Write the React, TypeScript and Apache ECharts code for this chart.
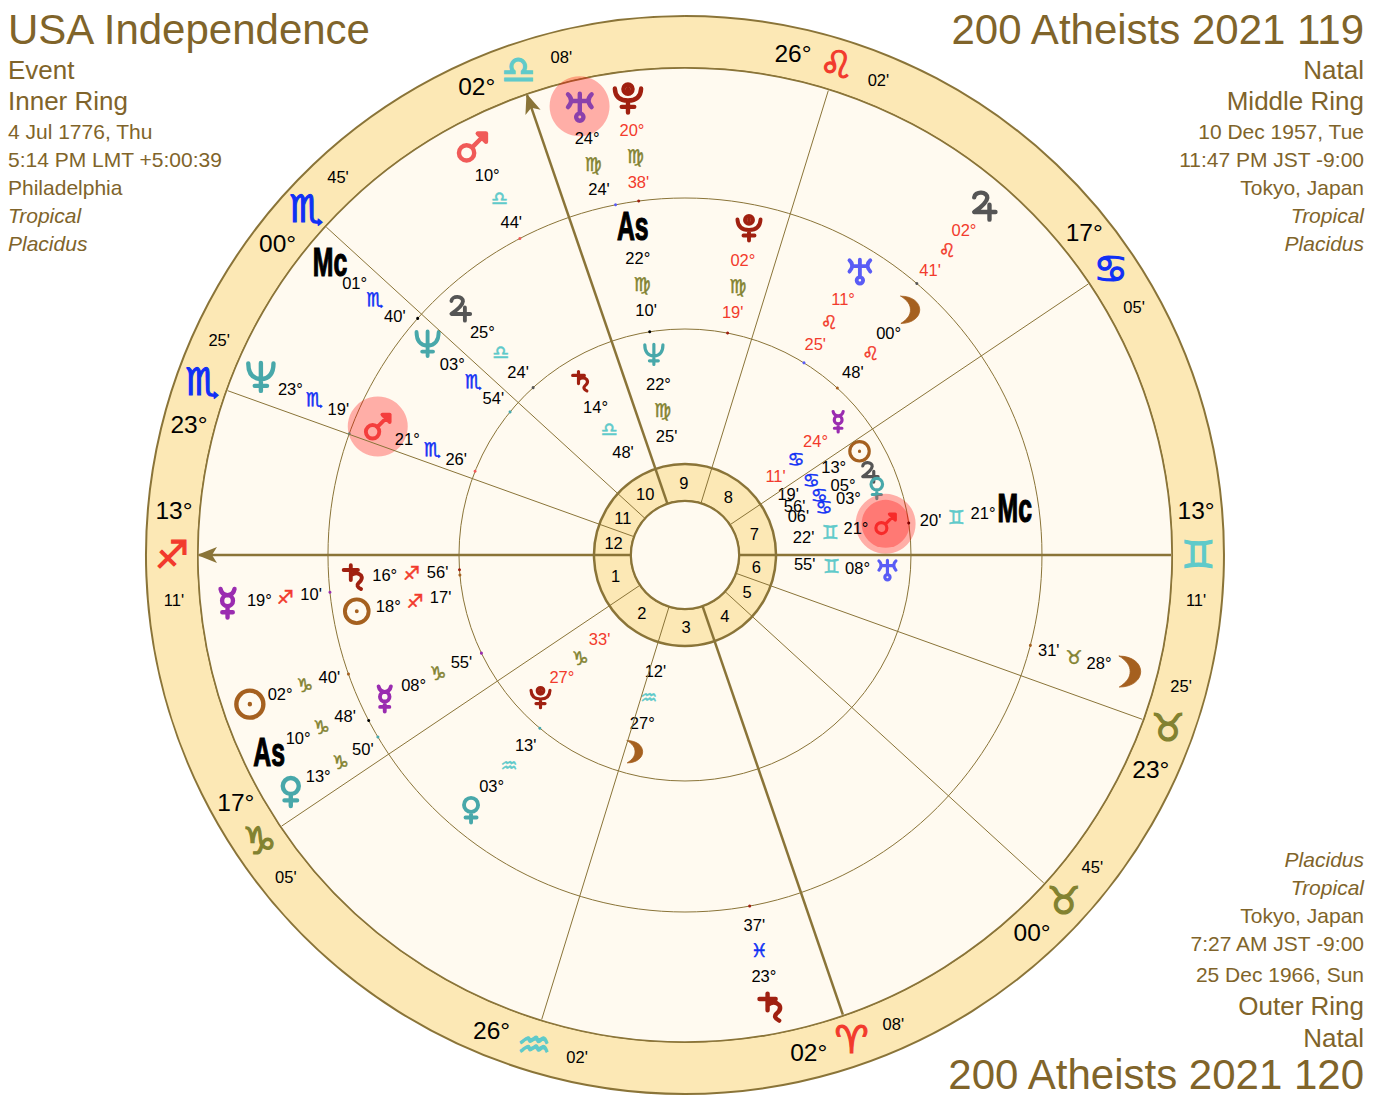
import React, { useEffect, useRef } from "react";
import * as echarts from "echarts";

const signGlyphs = ["♈", "♉", "♊", "♋", "♌", "♍", "♎", "♏", "♐", "♑", "♒", "♓"];
const cuspSign = [8, 9, 10, 0, 1, 1, 2, 3, 4, 6, 7, 7];
const cuspDeg = [13, 17, 26, 2, 0, 23, 13, 17, 26, 2, 0, 23];
const cuspMin = [11, 5, 2, 8, 45, 25, 11, 5, 2, 8, 45, 25];
const houseNumbers = ["1", "2", "3", "4", "5", "6", "7", "8", "9", "10", "11", "12"];

// body, sign index, degrees, minutes, longitude at which the glyph is shown, retrograde
type Row = [string, number, number, number, number, boolean];
const outerRing: Row[] = [
  ["Moon", 1, 28, 31, 58.5, false],
  ["Saturn", 11, 23, 37, 353.8, false],
  ["Venus", 9, 13, 50, 284.2, false],
  ["As", 9, 10, 48, 278.5, false],
  ["Sun", 9, 2, 40, 272.1, false],
  ["Mercury", 8, 19, 10, 259.2, false],
  ["Neptune", 7, 23, 19, 230.4, false],
  ["Mc", 7, 1, 40, 213.7, false],
  ["Mars", 6, 10, 44, 190.7, false],
  ["Uranus", 5, 24, 24, 176.4, false],
  ["Pluto", 5, 20, 38, 170.3, true],
  ["Jupiter", 4, 2, 41, 122.5, true],
];
const middleRing: Row[] = [
  ["Venus", 10, 3, 13, 303.2, false],
  ["Saturn", 8, 16, 56, 257.0, false],
  ["Sun", 8, 18, 17, 262.9, false],
  ["Mercury", 9, 8, 55, 278.8, false],
  ["Mars", 7, 21, 26, 230.5, false],
  ["Neptune", 7, 3, 54, 213.8, false],
  ["Jupiter", 6, 25, 24, 205.5, false],
  ["As", 5, 22, 10, 172.2, false],
  ["Pluto", 5, 2, 19, 152.1, true],
  ["Uranus", 4, 11, 25, 131.5, true],
  ["Moon", 4, 0, 48, 120.6, false],
  ["Mc", 2, 21, 20, 81.2, false],
];
const innerRing: Row[] = [
  ["Moon", 10, 27, 12, 328.9, false],
  ["Pluto", 9, 27, 33, 297.8, true],
  ["Saturn", 6, 14, 48, 194.3, false],
  ["Neptune", 5, 22, 25, 172.0, false],
  ["Mercury", 3, 24, 11, 114.2, true],
  ["Sun", 3, 13, 19, 103.9, false],
  ["Jupiter", 3, 5, 56, 97.2, false],
  ["Venus", 3, 3, 6, 92.3, false],
  ["Mars", 2, 21, 22, 82.0, false],
  ["Uranus", 2, 8, 55, 68.9, false],
];
const headerLeft = ["USA Independence", "Event", "Inner Ring", "4 Jul 1776, Thu", "5:14 PM LMT +5:00:39", "Philadelphia", "Tropical", "Placidus"];
const headerRight = ["200 Atheists 2021 119", "Natal", "Middle Ring", "10 Dec 1957, Tue", "11:47 PM JST -9:00", "Tokyo, Japan", "Tropical", "Placidus"];
const footerRight = ["Placidus", "Tropical", "Tokyo, Japan", "7:27 AM JST -9:00", "25 Dec 1966, Sun", "Outer Ring", "Natal", "200 Atheists 2021 120"];

const BROWN = "#80642a";
const LINE = "#8a7438";
const BAND = "#fce8b5";
const PAPER = "#fffaf0";
const RED = "#f23a2c";
const SANS = "Liberation Sans";
const SYM = "DejaVu Sans";
const CX = 685;
const CY = 555;
const R = 539;
const START = 286.82;

const signColors = [RED, "#828230", "#5fcaca", "#1030f5", RED, "#828230", "#5fcaca", "#1030f5", RED, "#828230", "#5fcaca", "#1030f5"];
const bodyStyle: Record<string, { c: string; d: string; h: number }> = {
  Sun: { c: "#a5601f", h: 27, d: "M50 0A50 50 0 1 0 50 100A50 50 0 1 0 50 0M50 49.5L50 50.5" },
  Moon: { c: "#a5601f", h: 31, d: "M5 3C45 3 70 25 70 50C70 75 45 97 5 97C28 82 38 68 38 50C38 32 28 18 5 3Z" },
  Mercury: { c: "#9a2cb0", h: 28.5, d: "M26 2Q30 22 50 23Q70 22 74 2M50 23A19 19 0 1 0 50 61A19 19 0 1 0 50 23M50 61L50 100M32 82L68 82" },
  Venus: { c: "#48a8aa", h: 28, d: "M50 2A28 28 0 1 0 50 58A28 28 0 1 0 50 2M50 58L50 100M28 80L72 80" },
  Mars: { c: "#f05a58", h: 27, d: "M2 72A26 26 0 1 0 54 72A26 26 0 1 0 2 72M47 53L94 6M66 6L94 6L94 34Z" },
  Jupiter: { c: "#555555", h: 27, d: "M12 18A24 18 0 0 1 60 20Q58 40 12 72L90 72M68 45L68 100" },
  Saturn: { c: "#a02010", h: 27, d: "M35 0L35 62M5 20L65 20M35 42Q60 24 78 42Q88 58 68 74Q54 88 78 100" },
  Uranus: { c: "#5a5cf5", h: 27, d: "M8 4Q30 24 8 50M92 4Q70 24 92 50M50 2L50 72M24 28L76 28M50 72A13 13 0 1 0 50 98A13 13 0 1 0 50 72" },
  Neptune: { c: "#48a8aa", h: 28, d: "M5 2Q5 55 50 58Q95 55 95 2M50 0L50 100M28 82L72 82" },
  Pluto: { c: "#a02010", h: 28, d: "M50 2A16 16 0 1 0 50 34A16 16 0 1 0 50 2M4 16Q6 58 50 58Q94 58 96 16M50 58L50 100M28 80L72 80M50 17.5L50 18.5" },
  As: { c: "#000000", h: 0, d: "" },
  Mc: { c: "#000000", h: 0, d: "" },
};

const pad = (n: number) => String(n).padStart(2, "0");
const lonOf = (sign: number, deg: number, min: number) => sign * 30 + deg + min / 60;
const cuspLon = cuspSign.map((s, i) => lonOf(s, cuspDeg[i], cuspMin[i]));

function textPoint(r: number, lon: number, text: string, size: number, color: string, family = SANS, extra: any = {}) {
  return {
    value: [r, (lon + 360) % 360],
    label: { show: true, position: "inside", formatter: text, fontSize: size, color, fontFamily: family, align: "center", verticalAlign: "middle", ...extra },
  };
}

function ringLabels(rows: Row[], radii: number[]) {
  const out: any[] = [];
  const lift = { offset: [0, -1] };
  rows.forEach(([, sign, deg, min, shown, retro]) => {
    const tc = retro ? RED : "#000000";
    out.push(textPoint(radii[1], shown, pad(deg) + "°", 16.5, tc, SANS, lift));
    out.push(textPoint(radii[2], shown, signGlyphs[sign], 19, signColors[sign], SYM, { textBorderColor: signColors[sign], textBorderWidth: 0.5 }));
    out.push(textPoint(radii[3], shown, pad(min) + "'", 16.5, tc, SANS, lift));
  });
  return out;
}

function glyphSeries(rows: Row[], r: number, f: number) {
  const sw = 4.4 * f;
  return {
    type: "scatter",
    coordinateSystem: "polar",
    silent: true,
    animation: false,
    symbolKeepAspect: true,
    itemStyle: { opacity: 1 },
    data: rows
      .filter(([b]) => b !== "As" && b !== "Mc")
      .map(([b, , , , shown]) => {
        const st = bodyStyle[b];
        return {
          value: [r, shown],
          symbol: "path://" + st.d,
          symbolSize: st.h * f,
          itemStyle: {
            color: b === "Moon" ? st.c : "transparent",
            borderColor: st.c,
            borderWidth: b === "Moon" ? 0.8 : sw,
            borderCap: "round",
            borderJoin: "round",
            opacity: 1,
          },
        };
      }),
  };
}

function ticks(rows: Row[], r: number) {
  return rows.map(([body, sign, deg, min]) => ({
    value: [r, lonOf(sign, deg, min)],
    itemStyle: { color: bodyStyle[body].c, opacity: 1 },
  }));
}

function disc(inner: number, outer: number, fill: string, border: string, width: number) {
  return {
    type: "pie",
    center: [CX, CY],
    radius: [inner, outer],
    silent: true,
    animation: false,
    label: { show: false },
    labelLine: { show: false },
    emphasis: { disabled: true },
    itemStyle: { color: fill, borderColor: border, borderWidth: width },
    data: [{ value: 1, name: "" }],
  };
}

function headerBlock(prefix: string, lines: string[], ys: number[], x: number, align: string, sizes: number[], italic: number[]) {
  return lines.map((t, i) => ({
    type: "text",
    id: prefix + i,
    x,
    y: ys[i],
    silent: true,
    style: { text: t, fill: BROWN, font: `${italic.includes(i) ? "italic " : ""}${sizes[i]}px "${SANS}"`, textAlign: align, textVerticalAlign: "middle" },
  }));
}

export default function App() {
  const ref = useRef<HTMLDivElement>(null);
  useEffect(() => {
    if (!ref.current) return;
    const chart = echarts.init(ref.current, undefined, { renderer: "svg" });
    const cuspLines = cuspLon.map((lon, i) => {
      const thick = i % 3 === 0;
      return {
        type: "line",
        coordinateSystem: "polar",
        silent: true,
        showSymbol: false,
        symbol: "none",
        animation: false,
        lineStyle: { color: LINE, width: thick ? 2.5 : 1 },
        data: [[54, lon], [486, lon]],
      };
    });
    const cuspTexts: any[] = [];
    cuspLon.forEach((lon, i) => {
      const top = ((lon + START) % 360) < 180 && i !== 0;
      const off = top ? 5 : -5;
      const c = signColors[cuspSign[i]];
      cuspTexts.push(textPoint(513, lon + off, pad(cuspDeg[i]) + "°", 24.5, "#000", SANS, { offset: [0, -2.5] }));
      cuspTexts.push(textPoint(513, lon, signGlyphs[cuspSign[i]], 38, c, SYM, { textBorderColor: c, textBorderWidth: 1.2, offset: [0, -1] }));
      cuspTexts.push(textPoint(513, lon - off, pad(cuspMin[i]) + "'", 16.5, "#000", SANS, { offset: [0, -1.5] }));
    });
    const houseTexts = houseNumbers.map((h, i) => {
      const a = cuspLon[i];
      const b = cuspLon[(i + 1) % 12];
      const mid = a + (((b - a + 360) % 360) / 2);
      return textPoint(72.5, mid, h, 16.5, "#000", SANS, { offset: [0, -1] });
    });
    const labelSeries = (data: any[]) => ({
      type: "scatter",
      coordinateSystem: "polar",
      silent: true,
      animation: false,
      symbol: "circle",
      symbolSize: 1,
      itemStyle: { color: "transparent", opacity: 1 },
      labelLayout: { hideOverlap: false },
      data,
    });
    const arrows = [0, 9].map((i) => ({
      value: [478, cuspLon[i]],
      symbolRotate: cuspLon[i] + START - 90,
    }));
    const angleRows = [
      ...outerRing.filter(([b]) => b === "As" || b === "Mc").map((row) => ({ row, r: 460 })),
      ...middleRing.filter(([b]) => b === "As" || b === "Mc").map((row) => ({ row, r: 333 })),
    ];
    const topYs = [29, 70, 101, 131, 159, 187, 215, 243];
    const topSizes = [42, 26, 26, 21, 21, 21, 21, 21];
    chart.setOption({
      animation: false,
      backgroundColor: "#ffffff",
      polar: { center: [CX, CY], radius: R },
      radiusAxis: { type: "value", min: 0, max: R, show: false },
      angleAxis: { type: "value", min: 0, max: 360, startAngle: START, clockwise: false, show: false },
      series: [
        disc(487, R, BAND, LINE, 2),
        disc(0, 487, PAPER, LINE, 1.5),
        disc(0, 357, "transparent", LINE, 1),
        disc(0, 226, "transparent", LINE, 1),
        disc(54, 91, BAND, LINE, 2.5),
        disc(0, 54, PAPER, LINE, 2),
        ...cuspLines,
        {
          type: "scatter",
          coordinateSystem: "polar",
          silent: true,
          animation: false,
          symbol: "path://M0 -10L8 10L0 5L-8 10Z",
          symbolKeepAspect: true,
          symbolSize: 20,
          itemStyle: { color: LINE, opacity: 1 },
          data: arrows,
        },
        {
          type: "scatter",
          coordinateSystem: "polar",
          silent: true,
          animation: false,
          symbolSize: 3,
          data: [...ticks(outerRing, 357), ...ticks(middleRing, 226)],
        },
        labelSeries(cuspTexts),
        labelSeries(houseTexts),
        glyphSeries(outerRing, 460, 1),
        glyphSeries(middleRing, 333, 0.88),
        glyphSeries(innerRing, 203, 0.72),
        labelSeries(ringLabels(outerRing, [460, 428, 402, 376])),
        labelSeries(ringLabels(middleRing, [333, 301, 274, 248])),
        labelSeries(ringLabels(innerRing, [203, 173, 147, 120])),
        {
          type: "scatter",
          coordinateSystem: "polar",
          silent: true,
          animation: false,
          symbol: "circle",
          itemStyle: { color: "#ff0000", opacity: 0.3 },
          data: [
            { value: [461, outerRing[9][4]], symbolSize: 60 },
            { value: [333, middleRing[4][4]], symbolSize: 60 },
            { value: [203, innerRing[8][4]], symbolSize: 60 },
            { value: [203, innerRing[8][4]], symbolSize: 48 },
          ],
        },
      ],
    });
    // The As and Mc monograms are condensed text placed through the polar scales.
    const monograms = angleRows.map(({ row, r }, i) => {
      const p = chart.convertToPixel({ polarIndex: 0 } as any, [r, row[4]]) as unknown as number[];
      return {
        type: "text",
        id: "angle-" + i,
        x: p[0],
        y: p[1],
        scaleX: 0.62,
        silent: true,
        z: 20,
        style: { text: row[0], font: `bold 40px "${SANS}"`, fill: "#000", stroke: "#000", lineWidth: 1.2, textAlign: "center", textVerticalAlign: "middle" },
      };
    });
    chart.setOption({
      graphic: [
        ...headerBlock("hl", headerLeft, topYs, 8, "left", topSizes, [6, 7]),
        ...headerBlock("hr", headerRight, topYs, 1364, "right", topSizes, [6, 7]),
        ...headerBlock("fr", footerRight, [859, 887, 915, 943, 974, 1006, 1038, 1074], 1364, "right", [21, 21, 21, 21, 21, 26, 26, 42], [0, 1]),
        ...monograms,
      ],
    });
    return () => chart.dispose();
  }, []);
  return <div ref={ref} style={{ position: "absolute", left: 0, top: 0, width: 1374, height: 1108 }} />;
}
